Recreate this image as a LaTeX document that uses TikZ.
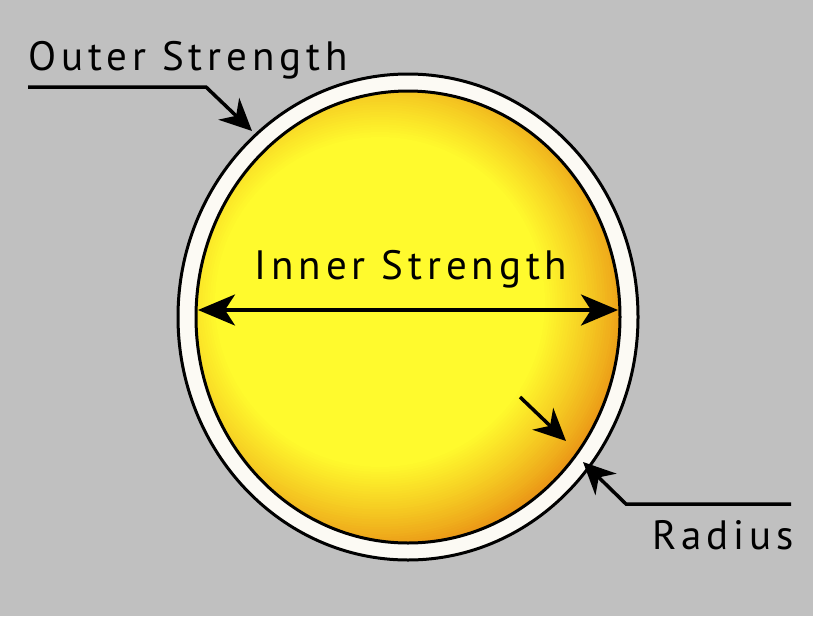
\documentclass[tikz,border=0pt]{standalone}
\usepackage{fontspec}
\setmainfont{PT Sans}
\usetikzlibrary{arrows.meta}

\definecolor{bggray}{RGB}{192,192,192}
\definecolor{ringwhite}{RGB}{252,250,244}
\definecolor{sunyellow}{RGB}{255,250,45}
\definecolor{sundark}{RGB}{228,118,15}

\begin{document}
\begin{tikzpicture}[x=1pt,y=-1pt,
  tip/.style={-{Stealth[length=32pt,width=30pt,inset=10pt]}},
  leader/.style={line width=3.5pt,line join=miter},
  caption/.style={font=\fontsize{41}{45}\selectfont\addfontfeature{LetterSpace=12},inner sep=0pt}]

% Background
\fill[bggray] (0,0) rectangle (813,616);
\useasboundingbox (0,0) rectangle (813,616);

% Outer ring
\coordinate (O) at (408,317);
\filldraw[fill=ringwhite, line width=3pt] (O) ellipse [x radius=230, y radius=243];

% Inner sphere, lit from the upper left
\coordinate (C) at (380,302);
\begin{scope}
  \clip (O) ellipse [x radius=212, y radius=226];
  \foreach \i in {0,...,40} {
    \pgfmathsetmacro\rr{265-2.5*\i}
    \pgfmathtruncatemacro\pct{100*(\i/40)^0.75}
    \fill[sunyellow!\pct!sundark] (C) circle [radius=\rr];
  }
\end{scope}
\draw[line width=3pt] (O) ellipse [x radius=212, y radius=226];

% Labels
\node[caption, anchor=base west] (outer) at (28,70) {Outer Strength};
\node[caption, anchor=base] (inner) at (411,279) {Inner Strength};
\node[caption, anchor=base east] (radius) at (794,549) {Radius};

% Leader points
\coordinate (os start) at (28,87);
\coordinate (os bend) at (206,87);
\coordinate (os tip) at (252,131);
\coordinate (rd end) at (791,504);
\coordinate (rd bend) at (626,504);
\coordinate (rd tip) at (583,462);
\coordinate (in start) at (520,397);
\coordinate (in tip) at (566,441);
\coordinate (L) at (198,310);
\coordinate (R) at (618,310);

% Arrows
\draw[leader, tip] (os start) -- (os bend) -- (os tip);
\draw[leader, tip] (rd end) -- (rd bend) -- (rd tip);
\draw[leader, tip] (in start) -- (in tip);
\draw[leader, {Stealth[length=37pt,width=31pt,inset=10pt]}-{Stealth[length=37pt,width=31pt,inset=10pt]}] (L) -- (R);

\end{tikzpicture}
\end{document}
